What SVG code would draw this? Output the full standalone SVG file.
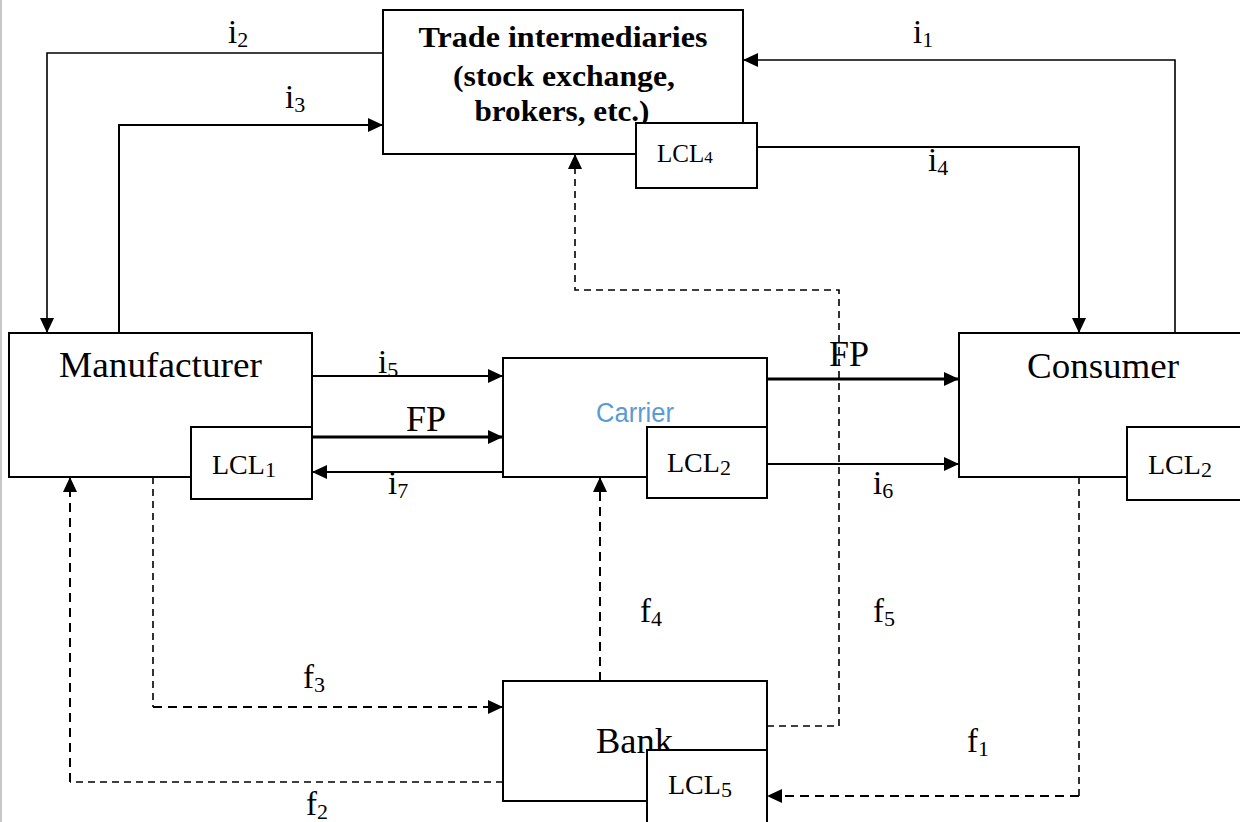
<svg xmlns="http://www.w3.org/2000/svg" width="1240" height="822" viewBox="0 0 1240 822">
<style>
.box{fill:#fff;stroke:#000;stroke-width:2}
.ln{fill:none;stroke:#000;stroke-width:2}
.thk{fill:none;stroke:#000;stroke-width:3.2}
.thin{fill:none;stroke:#000;stroke-width:1.6}
.d{fill:none;stroke:#000;stroke-width:2;stroke-dasharray:9 6}
.dt{fill:none;stroke:#000;stroke-width:1.6;stroke-dasharray:7 5}
.t{font-family:"Liberation Serif","Times New Roman",serif;fill:#000}
.big{font-size:36px}
.lab{font-size:33px}
.lcl{font-size:28px}
.tb{font-family:"Liberation Serif","Times New Roman",serif;font-weight:bold;font-size:29px;fill:#000}
.car{font-family:"Liberation Sans",Arial,sans-serif;font-size:27px;fill:#5B9BD5}
</style>
<defs>
<marker id="ah" markerUnits="userSpaceOnUse" markerWidth="18" markerHeight="16" refX="15" refY="7" orient="auto">
<path d="M0,0 L15,7 L0,14 z" fill="#000"/>
</marker>
</defs>
<rect x="0" y="0" width="1240" height="822" fill="#fff"/>
<line x1="1" y1="0" x2="1" y2="822" stroke="#c8c8c8" stroke-width="2"/>

<g id="connectors">
<!-- i2 -->
<path class="thin" d="M383,53 H47 V333" marker-end="url(#ah)"/>
<!-- i3 -->
<path class="ln" d="M119,333 V125 H383" marker-end="url(#ah)"/>
<!-- i1 -->
<path class="thin" d="M1175,333 V60 H743" marker-end="url(#ah)"/>
<!-- i4 -->
<path class="ln" d="M743,147 H1079 V333" marker-end="url(#ah)"/>
<!-- i5 -->
<path class="ln" d="M312,376 H503" marker-end="url(#ah)"/>
<!-- FP 1 -->
<path class="thk" d="M312,437 H503" marker-end="url(#ah)"/>
<!-- i7 -->
<path class="ln" d="M503,472 H312" marker-end="url(#ah)"/>
<!-- FP 2 -->
<path class="thk" d="M767,379 H959" marker-end="url(#ah)"/>
<!-- i6 -->
<path class="ln" d="M767,464 H959" marker-end="url(#ah)"/>
<!-- f5 -->
<path class="dt" d="M767,726 H839 V290 H575 V154" marker-end="url(#ah)"/>
<!-- f4 -->
<path class="d" d="M600,681 V477" marker-end="url(#ah)"/>
<!-- f3 -->
<path class="dt" d="M153,477 V707"/>
<path class="d" d="M153,707 H503" marker-end="url(#ah)"/>
<!-- f2 -->
<path class="dt" d="M503,782 H70"/>
<path class="d" d="M70,782 V477" marker-end="url(#ah)"/>
<!-- f1 -->
<path class="dt" d="M1079,477 V796"/>
<path class="d" d="M1079,796 H767" marker-end="url(#ah)"/>
</g>

<g id="trade">
<rect class="box" x="383" y="10" width="360" height="144"/>
<text class="tb" x="563" y="47" text-anchor="middle" textLength="289" lengthAdjust="spacingAndGlyphs">Trade intermediaries</text>
<text class="tb" x="564" y="86" text-anchor="middle" textLength="222" lengthAdjust="spacingAndGlyphs">(stock exchange,</text>
<text class="tb" x="562" y="121" text-anchor="middle" textLength="175" lengthAdjust="spacingAndGlyphs">brokers, etc.)</text>
</g>
<g id="lcl4">
<rect class="box" x="636" y="123" width="121" height="65"/>
<text class="t" x="657" y="162" font-size="25">LCL<tspan font-size="17" dy="1">4</tspan></text>
</g>

<g id="manufacturer">
<rect class="box" x="9" y="333" width="303" height="144"/>
<text class="t big" x="59" y="377" textLength="203" lengthAdjust="spacingAndGlyphs">Manufacturer</text>
</g>
<g id="lcl1">
<rect class="box" x="191" y="427" width="121" height="72"/>
<text class="t lcl" x="212" y="474">LCL<tspan font-size="22" dy="3">1</tspan></text>
</g>

<g id="carrier">
<rect class="box" x="503" y="358" width="264" height="119"/>
<text class="car" x="596" y="422" textLength="78" lengthAdjust="spacingAndGlyphs">Carrier</text>
</g>
<g id="lcl2-carrier">
<rect class="box" x="647" y="427" width="120" height="71"/>
<text class="t lcl" x="667" y="472">LCL<tspan font-size="22" dy="3">2</tspan></text>
</g>

<g id="consumer">
<rect class="box" x="959" y="333" width="290" height="144"/>
<text class="t big" x="1027" y="378" textLength="152" lengthAdjust="spacingAndGlyphs">Consumer</text>
</g>
<g id="lcl2-consumer">
<rect class="box" x="1127" y="427" width="130" height="73"/>
<text class="t lcl" x="1148" y="474">LCL<tspan font-size="22" dy="3">2</tspan></text>
</g>

<g id="bank">
<rect class="box" x="503" y="681" width="264" height="120"/>
<text class="t big" x="596" y="753" textLength="77" lengthAdjust="spacingAndGlyphs">Bank</text>
</g>
<g id="lcl5">
<rect class="box" x="647" y="750" width="120" height="80"/>
<text class="t lcl" x="668" y="794">LCL<tspan font-size="22" dy="3">5</tspan></text>
</g>

<g id="labels">
<text class="t lab" x="228" y="43">i<tspan font-size="22" dy="4">2</tspan></text>
<text class="t lab" x="285" y="108">i<tspan font-size="22" dy="4">3</tspan></text>
<text class="t lab" x="913" y="43">i<tspan font-size="22" dy="4">1</tspan></text>
<text class="t lab" x="928" y="171">i<tspan font-size="22" dy="4">4</tspan></text>
<text class="t lab" x="378" y="373">i<tspan font-size="22" dy="4">5</tspan></text>
<text class="t lab" x="388" y="494">i<tspan font-size="22" dy="4">7</tspan></text>
<text class="t lab" x="873" y="494">i<tspan font-size="22" dy="4">6</tspan></text>
<text class="t big" x="406" y="431">FP</text>
<text class="t big" x="829" y="366">FP</text>
<text class="t lab" x="303" y="688">f<tspan font-size="22" dy="4">3</tspan></text>
<text class="t lab" x="306" y="815">f<tspan font-size="22" dy="4">2</tspan></text>
<text class="t lab" x="640" y="622">f<tspan font-size="22" dy="4">4</tspan></text>
<text class="t lab" x="873" y="622">f<tspan font-size="22" dy="4">5</tspan></text>
<text class="t lab" x="967" y="752">f<tspan font-size="22" dy="4">1</tspan></text>
</g>
</svg>
